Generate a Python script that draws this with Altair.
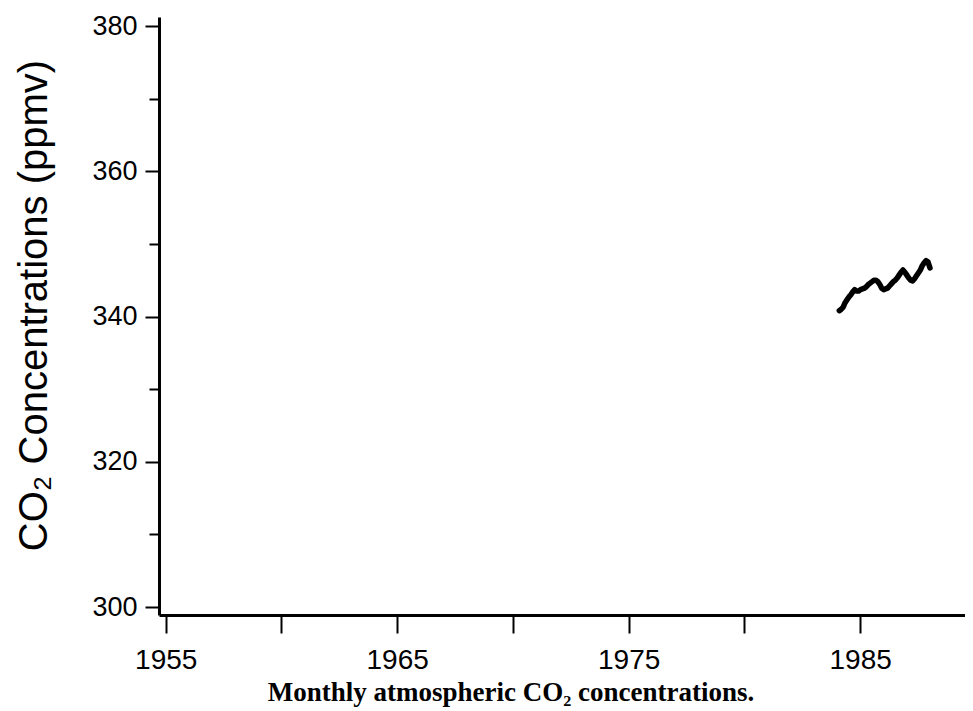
import altair as alt
import pandas as pd

# Monthly CO2 concentrations (ppmv), Jan 1984 - Dec 1987
start_year = 1984
ppmv = [340.8, 341.0, 341.3, 341.9, 342.3, 342.7, 343.0, 343.4, 343.7, 343.5, 343.5, 343.7,
        343.8, 343.9, 344.1, 344.4, 344.6, 344.8, 345.0, 345.0, 344.8, 344.4, 343.9, 343.7,
        343.8, 343.9, 344.2, 344.5, 344.8, 345.0, 345.3, 345.7, 346.1, 346.4, 346.1, 345.7,
        345.3, 345.0, 344.9, 345.2, 345.6, 346.0, 346.4, 347.0, 347.4, 347.7, 347.5, 346.7]
year = [start_year + 0.1 + i / 12 for i in range(len(ppmv))]

x_ticks = [1955, 1960, 1965, 1970, 1975, 1980, 1985]
y_ticks = [300, 310, 320, 330, 340, 350, 360, 370, 380]
x_domain = [1954.71, 1989.53]
y_domain = [298.9, 381.24]

y_title = "CO\u2082 Concentrations (ppmv)"
caption = "Monthly atmospheric CO\u2082 concentrations."

df = pd.DataFrame({"year": year, "ppmv": ppmv})

sans = "Liberation Sans"

chart = (
    alt.Chart(df)
    .mark_line(color="black", strokeWidth=5.5, strokeCap="round", strokeJoin="round")
    .encode(
        x=alt.X(
            "year:Q",
            scale=alt.Scale(domain=x_domain, nice=False, zero=False),
            axis=alt.Axis(
                values=x_ticks,
                format="d",
                labelExpr="datum.value % 10 == 5 ? datum.label : ''",
                title=None,
                grid=False,
                tickSize=18,
                tickWidth=2,
                tickColor="black",
                domainColor="black",
                domainWidth=3,
                labelFont=sans,
                labelFontSize=28,
                labelColor="black",
                labelPadding=13,
                labelFlush=False,
                labelOverlap=False,
            ),
        ),
        y=alt.Y(
            "ppmv:Q",
            scale=alt.Scale(domain=y_domain, nice=False, zero=False),
            axis=alt.Axis(
                values=y_ticks,
                labelExpr="datum.value % 20 == 0 ? datum.label : ''",
                title=y_title,
                titleFont=sans,
                titleFontSize=40,
                titleFontWeight="normal",
                titleColor="black",
                titleAngle=270,
                titleX=-113,
                titleY=288,
                titleAlign="center",
                titleBaseline="alphabetic",
                grid=False,
                tickSize={"condition": {"test": "datum.value % 20 == 0", "value": 14}, "value": 10},
                tickWidth=2,
                tickColor="black",
                domainColor="black",
                domainWidth=3,
                labelFont=sans,
                labelFontSize=27,
                labelColor="black",
                labelPadding=8,
                labelFlush=False,
                labelOverlap=False,
            ),
        ),
    )
    .properties(
        width=806,
        height=598,
        autosize=alt.AutoSizeParams(type="none"),
        padding={"left": 151, "top": 9, "right": 0, "bottom": 93},
        background="white",
        title=alt.TitleParams(
            caption,
            orient="bottom",
            anchor="middle",
            frame="group",
            offset=27,
            dx=-51,
            baseline="alphabetic",
            font="Liberation Serif",
            fontSize=27,
            fontWeight="bold",
            color="black",
        ),
    )
    .configure_view(stroke=None)
)

chart.save("out.html", embed_options={"renderer": "svg", "actions": False})
